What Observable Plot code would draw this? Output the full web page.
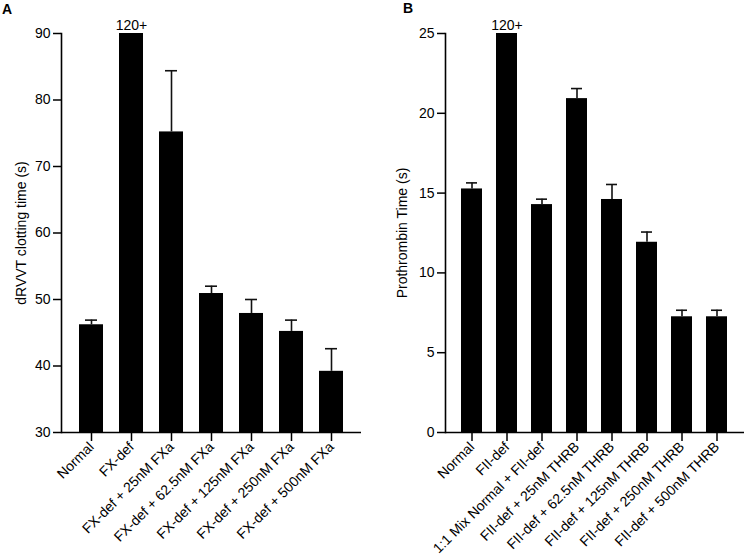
<!DOCTYPE html>
<html>
<head>
<meta charset="utf-8">
<script src="https://cdn.jsdelivr.net/npm/d3@7"></script>
<script src="https://cdn.jsdelivr.net/npm/@observablehq/plot@0.6"></script>
<style>
  html, body { margin: 0; padding: 0; background: #fff; }
  #wrap { position: relative; width: 744px; height: 556px; display: flex; font-family: "Liberation Sans", Arial, Helvetica, sans-serif; }
  #wrap svg { font-size: 14px !important; font-family: "Liberation Sans", Arial, Helvetica, sans-serif !important; color: #000; }
  #wrap svg text { font-size: 14px; }
  .letter { position: absolute; font-weight: bold; font-size: 14px; line-height: 16px; color: #000; }
</style>
</head>
<body>
<div id="wrap">
  <div class="letter" style="left:2px; top:1px;">A</div>
  <div class="letter" style="left:403px; top:0px;">B</div>
</div>
<script>
// Panel A: dRVVT clotting time
const catsA = ["Normal", "FX-def", "FX-def + 25nM FXa", "FX-def + 62.5nM FXa", "FX-def + 125nM FXa", "FX-def + 250nM FXa", "FX-def + 500nM FXa"];
const meansA = [46.2, 120, 75.2, 50.9, 47.9, 45.2, 39.2];
const errsA = [0.7, null, 9.2, 1.1, 2.1, 1.7, 3.4];
const labelsA = [null, "120+", null, null, null, null, null];
const ticksA = [30, 40, 50, 60, 70, 80, 90];

// Panel B: Prothrombin time
const catsB = ["Normal", "FII-def", "1:1 Mix Normal + FII-def", "FII-def + 25nM THRB", "FII-def + 62.5nM THRB", "FII-def + 125nM THRB", "FII-def + 250nM THRB", "FII-def + 500nM THRB"];
const meansB = [15.26, 120, 14.28, 20.92, 14.6, 11.92, 7.25, 7.25];
const errsB = [0.38, null, 0.34, 0.63, 0.94, 0.64, 0.41, 0.41];
const labelsB = [null, "120+", null, null, null, null, null, null];
const ticksB = [0, 5, 10, 15, 20, 25];

function panel(cats, means, errs, labels, ticks, yLabel, opts) {
  const data = cats.map((c, i) => ({name: c, value: means[i], err: errs[i], label: labels[i]}));
  const withErr = data.filter(d => d.err != null);
  const withLabel = data.filter(d => d.label);
  const y0 = ticks[0];
  return Plot.plot({
    width: 372,
    height: 556,
    marginLeft: opts.marginLeft,
    marginRight: opts.marginRight,
    marginTop: 33,
    marginBottom: 124,
    style: {fontFamily: '"Liberation Sans", Arial, Helvetica, sans-serif', fontSize: "14px", color: "#000", background: "#fff", overflow: "visible"},
    x: {domain: cats, paddingInner: 0.39, paddingOuter: 0.37},
    y: {domain: [ticks[0], ticks[ticks.length - 1]], clamp: true},
    marks: [
      Plot.barY(data, {x: "name", y1: y0, y2: "value", fill: "#000"}),
      Plot.ruleX(withErr, {x: "name", y1: "value", y2: d => d.value + d.err, stroke: "#111", strokeWidth: 1.6}),
      Plot.tickY(withErr, {x: "name", y: d => d.value + d.err, stroke: "#111", strokeWidth: 1.6, insetLeft: opts.capInset, insetRight: opts.capInset}),
      Plot.text(withLabel, {x: "name", y: "value", text: "label", dy: -8, fontSize: 14, fill: "#000"}),
      Plot.axisY({ticks: ticks, tickSize: 8, tickPadding: 3, strokeWidth: 1.5, label: yLabel, labelAnchor: "center", labelArrow: "none", labelOffset: opts.labelOffset, fontSize: 14}),
      Plot.axisX({tickSize: 9, tickPadding: 3, tickRotate: -45, strokeWidth: 1.5, label: null, fontSize: 14}),
      Plot.ruleY([y0], {stroke: "#000", strokeWidth: 1.6}),
      Plot.frame({anchor: "left", stroke: "#000", strokeWidth: 1.6})
    ]
  });
}

const wrap = document.getElementById("wrap");
wrap.appendChild(panel(catsA, meansA, errsA, labelsA, ticksA, "dRVVT clotting time (s)", {marginLeft: 61, marginRight: 11, capInset: 6, labelOffset: 45}));
wrap.appendChild(panel(catsB, meansB, errsB, labelsB, ticksB, "Prothrombin Time (s)", {marginLeft: 73, marginRight: 0, capInset: 5, labelOffset: 48}));
</script>
</body>
</html>
